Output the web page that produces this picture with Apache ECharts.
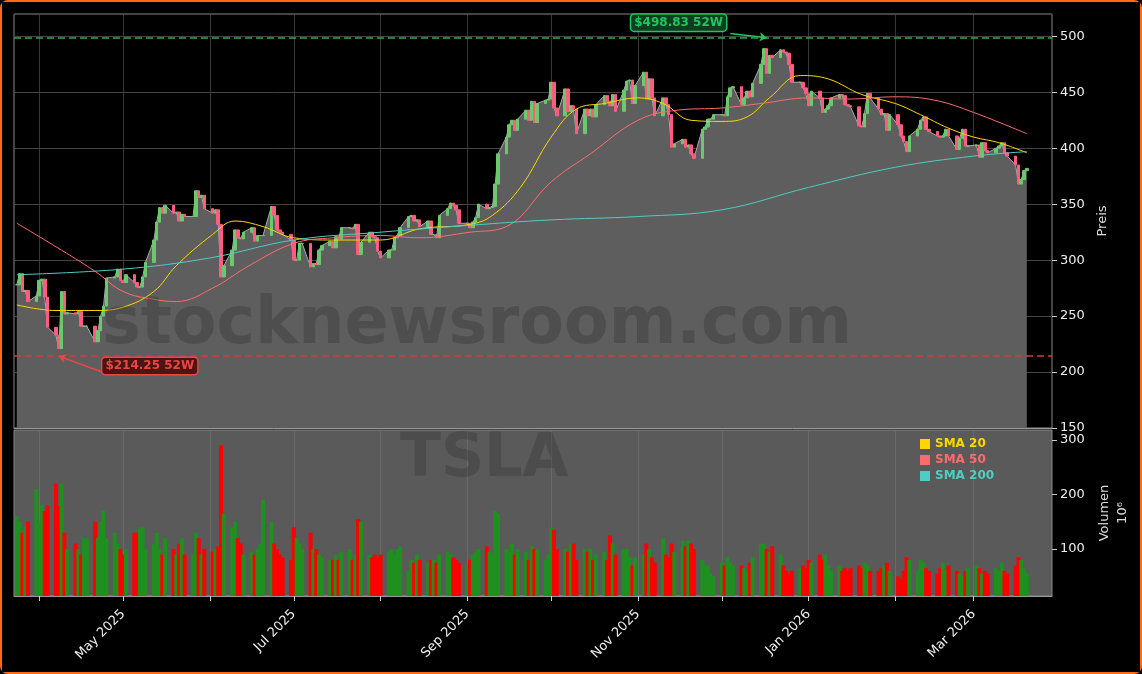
<!DOCTYPE html>
<html><head><meta charset="utf-8">
<script src="https://cdn.jsdelivr.net/npm/echarts@6/dist/echarts.min.js"></script>
<style>
html,body{margin:0;padding:0;background:#000;}
#c{width:1138px;height:670px;border:2px solid #ff6a13;border-radius:8px;box-sizing:content-box;}
</style></head><body><div id="c"></div>
<script>
// daily closes, week by week (Mon..Fri) starting 2025-03-24
const closes = [
278,288,272,273,263, 268,282,283,267,240, 233,221,272,252,253, 252,254,241,241,241,
227,237,250,259,284, 285,292,282,280,287, 280,276,276,285,298, 318,334,347,342,349,
342,343,335,341,339, 339,362,356,358,346, 342,345,332,285,295, 309,327,320,319,325,
329,317,322,322,322, 348,340,327,325,323, 318,300,300,315,315, 294,297,296,309,313,
317,311,321,319,329, 329,328,332,305,316, 325,321,320,308,302, 309,309,320,322,329,
339,340,335,336,330, 335,323,323,320,340, 346,351,349,345,333, 333,329,334,338,350,
346,347,348,368,395, 410,421,425,416,426, 434,425,442,423,440, 443,444,459,436,429,
453,433,438,435,413, 435,429,435,428,439, 447,442,438,448,433, 452,460,461,440,456,
468,444,462,445,429, 445,439,430,401,404, 408,401,403,395,391, 417,419,426,426,430,
430,429,446,454,455, 439,445,451,446,458, 475,489,467,483,481, 488,486,485,475,459,
459,454,449,438,451, 445,432,435,438,445, 448,447,439,438,437, 420,419,431,449,445,
435,430,431,416,430, 421,411,406,397,411, 417,425,428,417,415, 411,410,411,417,411,
399,409,417,402,402, 403,392,405,398,396, 400,402,405,396,393, 385,368,372,380,382];
// daily volume in millions
const volumes = [
160,150,130,140,150, 210,150,180,170,180, 220,180,220,130,100, 110,100,90,120,120,
150,120,150,170,120, 130,110,100,90,100, 130,130,140,140,100, 110,130,100,90,120,
100,90,110,120,90, 90,130,120,90,100, 95,100,105,290,165, 140,150,120,110,90,
95,90,100,110,190, 150,110,100,90,85, 80,140,120,110,100, 130,100,100,90,85,
80,80,90,80,95, 100,80,90,155,150, 90,85,90,85,90, 95,100,90,100,105,
60,80,75,90,80, 75,80,80,75,90, 95,90,85,80,75, 70,80,90,95,100,
105,95,90,170,165, 100,95,110,90,100, 95,80,105,100,100, 80,90,140,135,100,
100,95,110,110,80, 100,95,100,80,90, 95,80,125,110,90, 100,100,85,70,85,
90,110,100,85,75, 120,90,85,110,95, 115,105,115,110,100, 80,70,70,55,50,
75,70,85,75,70, 70,65,60,75,85, 110,110,100,95,105, 90,70,60,55,60,
65,70,65,80,75, 90,80,90,70,60, 70,60,65,60,65, 70,65,75,70,60,
60,65,70,75,60, 50,45,60,85,80, 60,80,75,65,60, 55,65,75,60,70,
60,55,50,60,65, 70,65,55,60,55, 65,60,75,60,55, 70,85,80,65,55];
const sma20 = [['2025-03-24',260],['2025-04-07',255],['2025-04-21',255],['2025-05-01',258],['2025-05-12',272],['2025-05-20',295],['2025-06-02',323],['2025-06-10',335],['2025-06-20',330],['2025-07-01',320],['2025-07-15',318],['2025-08-01',318],['2025-08-15',328],['2025-09-02',332],['2025-09-10',340],['2025-09-20',365],['2025-10-01',410],['2025-10-10',435],['2025-10-20',440],['2025-11-01',445],['2025-11-10',440],['2025-11-20',425],['2025-12-01',424],['2025-12-10',428],['2025-12-18',445],['2025-12-29',465],['2026-01-08',462],['2026-01-20',448],['2026-02-01',440],['2026-02-10',430],['2026-02-20',418],['2026-03-01',410],['2026-03-10',405],['2026-03-20',396]];
const sma50 = [['2025-03-24',333],['2025-04-07',312],['2025-04-21',290],['2025-05-01',272],['2025-05-12',265],['2025-05-20',263],['2025-06-02',275],['2025-06-15',295],['2025-07-01',315],['2025-07-15',320],['2025-08-01',322],['2025-08-15',320],['2025-09-02',325],['2025-09-15',330],['2025-10-01',370],['2025-10-15',395],['2025-11-01',425],['2025-11-15',434],['2025-12-01',436],['2025-12-15',440],['2026-01-01',445],['2026-01-15',444],['2026-02-01',446],['2026-02-15',443],['2026-03-01',432],['2026-03-20',413]];
const sma200 = [['2025-03-24',287],['2025-05-01',292],['2025-06-01',302],['2025-07-01',318],['2025-08-01',325],['2025-09-01',331],['2025-10-01',336],['2025-11-01',339],['2025-12-01',345],['2026-01-01',365],['2026-02-01',383],['2026-03-01',393],['2026-03-20',397]];
const high52 = {date:'2025-12-17', value:498.83, label:'$498.83 52W'};
const low52 = {date:'2025-04-08', value:214.25, label:'$214.25 52W'};
const monthTicks = ['2025-04-01','2025-05-01','2025-06-01','2025-07-01','2025-08-01','2025-09-01','2025-10-01','2025-11-01','2025-12-01','2026-01-01','2026-02-01','2026-03-01'];
const labelMonths = {'2025-05-01':'May 2025','2025-07-01':'Jul 2025','2025-09-01':'Sep 2025','2025-11-01':'Nov 2025','2026-01-01':'Jan 2026','2026-03-01':'Mar 2026'};

const dates=[]; {let d=new Date(Date.UTC(2025,2,24)); while(dates.length<closes.length){const w=d.getUTCDay(); if(w!==0&&w!==6) dates.push(d.getTime()); d=new Date(d.getTime()+86400000);} }
const candles=closes.map((c,i)=>{const o=i?closes[i-1]:c;return [dates[i],o,c,Math.min(o,c),Math.max(o,c)];});
const volData=volumes.map((v,i)=>{const o=i?closes[i-1]:closes[0];return {value:[dates[i],v],itemStyle:{color:closes[i]>=o?'#1f8f1f':'#ff0000'}};});
const ts=s=>Date.parse(s+'T00:00:00Z');
const xmin=ts('2025-03-23'), xmax=ts('2026-03-29');
const toPairs=a=>a.map(p=>[ts(p[0]),p[1]]);
const mt=monthTicks.map(ts);

const chart=echarts.init(document.getElementById('c'));
function xAx(grid,showLabels){return {type:'value',gridIndex:grid,min:xmin,max:xmax,scale:true,
 axisLine:{lineStyle:{color:'#999'}},
 splitLine:{show:true,lineStyle:{color:grid?'#6e6e6e':'#444',width:0.8}},
 axisTick:{show:showLabels,customValues:mt,lineStyle:{color:'#ccc'}},
 axisLabel:{show:showLabels,customValues:mt,rotate:45,margin:16,color:'#eee',fontSize:13,fontFamily:'DejaVu Sans',
   formatter:v=>{const k=new Date(v).toISOString().slice(0,10);return labelMonths[k]||'';}}};}
chart.setOption({
 backgroundColor:'#000',animation:false,
 graphic:[
  {type:'text',left:100,top:292,z:100,silent:true,style:{text:'stocknewsroom.com',font:'bold 65px "DejaVu Sans"',fill:'rgba(40,40,40,0.28)'}},
  {type:'text',left:398,top:428,z:100,silent:true,style:{text:'TSLA',font:'bold 60px "DejaVu Sans"',fill:'rgba(40,40,40,0.28)'}}
 ],
 legend:{left:913,top:431,orient:'vertical',itemWidth:10,itemHeight:10,itemGap:4,icon:'rect',
  textStyle:{fontWeight:'bold',fontSize:12,fontFamily:'DejaVu Sans'},
  data:[{name:'SMA 20',textStyle:{color:'#ffd700'}},{name:'SMA 50',textStyle:{color:'#ff6b6b'}},{name:'SMA 200',textStyle:{color:'#4ecdc4'}}]},
 grid:[{left:12,right:88,top:12,height:414,backgroundColor:'#000',show:true,borderColor:'#888'},
       {left:12,right:88,top:428,height:166,show:true,backgroundColor:'#5a5a5a',borderColor:'#888'}],
 xAxis:[xAx(0,false),xAx(1,true)],
 yAxis:[{gridIndex:0,position:'right',min:150,max:520,interval:50,name:'Preis',nameLocation:'middle',nameGap:36,nameRotate:90,
   nameTextStyle:{color:'#ddd',fontSize:13,fontFamily:'DejaVu Sans'},axisLine:{show:false},axisTick:{show:true,lineStyle:{color:'#ccc'}},
   axisLabel:{color:'#eee',fontSize:13,fontFamily:'DejaVu Sans',showMaxLabel:false},splitLine:{lineStyle:{color:'#444'}}},
  {gridIndex:1,position:'right',min:14,max:318,name:'Volumen\n10⁶',nameLocation:'middle',nameGap:40,nameRotate:90,
   nameTextStyle:{color:'#ddd',fontSize:13,lineHeight:18,fontFamily:'DejaVu Sans'},axisLine:{show:false},
   axisTick:{show:true,customValues:[100,200,300],lineStyle:{color:'#ccc'}},
   axisLabel:{customValues:[100,200,300],color:'#eee',fontSize:13,fontFamily:'DejaVu Sans'},splitLine:{show:false}}],
 series:[
  {type:'line',xAxisIndex:0,yAxisIndex:0,data:closes.map((c,i)=>[dates[i],c]),symbol:'none',z:2,
   lineStyle:{color:'#aaa',width:1},areaStyle:{color:'#5e5e5e',opacity:1,origin:'start'}},
  {type:'candlestick',xAxisIndex:0,yAxisIndex:0,data:candles,z:3,barWidth:3,
   encode:{x:0,y:[1,2,3,4]},
   itemStyle:{color:'#6cc86c',color0:'#ff5c82',borderColor:'#6cc86c',borderColor0:'#ff5c82'},
   markLine:{symbol:'none',silent:true,label:{show:false},data:[
    {yAxis:high52.value,lineStyle:{color:'#2ea84f',type:[7,4],width:1.5}},
    {yAxis:low52.value,lineStyle:{color:'#d43b3b',type:[7,4],width:1.5}},
    [{coord:[ts('2025-12-04'),502.5],symbol:'none',lineStyle:{color:'#22c55e',type:'solid',width:1.5}},{coord:[ts(high52.date),high52.value],symbol:'arrow',symbolSize:7}],
    [{coord:[ts('2025-04-23'),200.5],symbol:'none',lineStyle:{color:'#ef4444',type:'solid',width:1.5}},{coord:[ts(low52.date),low52.value],symbol:'arrow',symbolSize:7}]
   ]},
   markPoint:{symbol:'circle',symbolSize:0.1,data:[
    {coord:[ts(high52.date),high52.value],label:{show:true,formatter:high52.label,offset:[-88,-15],color:'#22c55e',fontWeight:'bold',fontSize:12,fontFamily:'DejaVu Sans',
      backgroundColor:'#0f3d22',borderColor:'#22c55e',borderWidth:1.5,borderRadius:3,padding:[2,3]}},
    {coord:[ts(low52.date),low52.value],label:{show:true,formatter:low52.label,offset:[91,10],color:'#ef4444',fontWeight:'bold',fontSize:12,fontFamily:'DejaVu Sans',
      backgroundColor:'#4a1515',borderColor:'#ef4444',borderWidth:1.5,borderRadius:3,padding:[2,3]}}]}},
  {name:'SMA 20',type:'line',xAxisIndex:0,yAxisIndex:0,data:toPairs(sma20),symbol:'none',smooth:0.4,z:4,lineStyle:{color:'#ffd700',width:1},itemStyle:{color:'#ffd700'}},
  {name:'SMA 50',type:'line',xAxisIndex:0,yAxisIndex:0,data:toPairs(sma50),symbol:'none',smooth:0.4,z:4,lineStyle:{color:'#ff6b6b',width:1},itemStyle:{color:'#ff6b6b'}},
  {name:'SMA 200',type:'line',xAxisIndex:0,yAxisIndex:0,data:toPairs(sma200),symbol:'none',smooth:0.4,z:4,lineStyle:{color:'#4ecdc4',width:1},itemStyle:{color:'#4ecdc4'}},
  {type:'bar',xAxisIndex:1,yAxisIndex:1,data:volData,barWidth:4,z:3}
 ]
});
</script></body></html>
